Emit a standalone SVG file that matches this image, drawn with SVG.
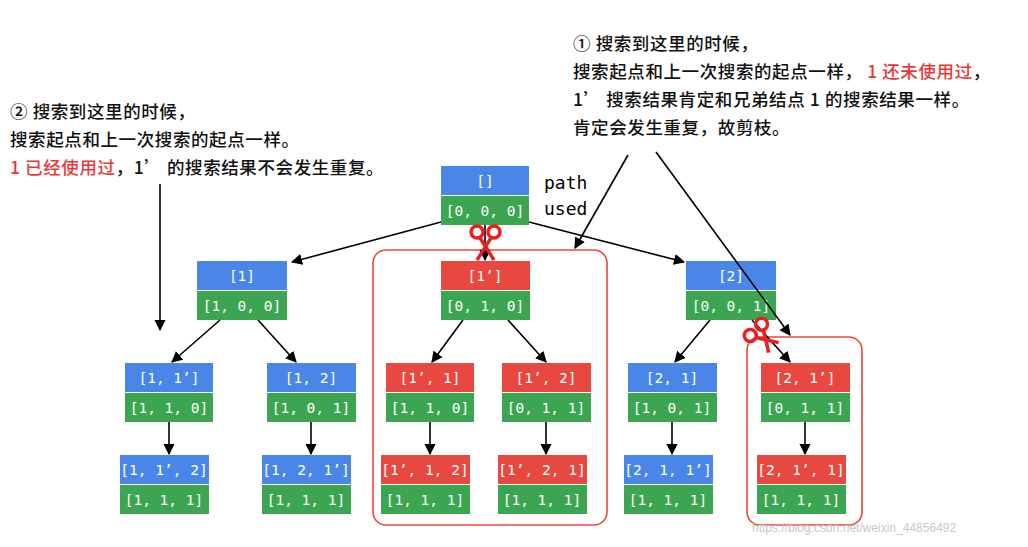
<svg xmlns="http://www.w3.org/2000/svg" width="1028" height="547" viewBox="0 0 1028 547">
<defs>
<style>
.b{fill:#4a86e8}.g{fill:#3ba552}.r{fill:#e8483f}
.t{font-family:"DejaVu Sans Mono",monospace;font-size:14.5px;fill:#fff;text-anchor:middle}
.n{font-family:"Noto Sans CJK SC","Noto Sans",sans-serif;font-size:17.5px;font-weight:500;fill:#111;letter-spacing:0.6px}
.red{fill:#e8383a}
.c line{stroke:#000;stroke-width:1.6;marker-end:url(#a)}
.box{fill:none;stroke:#e8483f;stroke-width:1.6}
.sc{stroke:#e82020;stroke-width:3.5;fill:none}
</style>
<marker id="a" viewBox="0 0 10 10" refX="9" refY="5" markerWidth="7" markerHeight="7" orient="auto"><path d="M0,0L10,5L0,10z" fill="#000"/></marker>
</defs>
<rect width="1028" height="547" fill="#fff"/>
<text class="n" x="573" y="50">① 搜索到这里的时候，</text>
<text class="n" x="573" y="78">搜索起点和上一次搜索的起点一样，<tspan class="red"> 1 还未使用过</tspan>，</text>
<text class="n" x="573" y="106">1’ 搜索结果肯定和兄弟结点 1 的搜索结果一样。</text>
<text class="n" x="573" y="134">肯定会发生重复，故剪枝。</text>
<text class="n" x="10" y="118">② 搜索到这里的时候，</text>
<text class="n" x="10" y="146">搜索起点和上一次搜索的起点一样。</text>
<text class="n" x="10" y="174"><tspan class="red">1 已经使用过</tspan>，1’ 的搜索结果不会发生重复。</text>
<text x="544" y="189" style="font-family:'DejaVu Sans Mono',monospace;font-size:18px">path</text>
<text x="544" y="215" style="font-family:'DejaVu Sans Mono',monospace;font-size:18px">used</text>
<rect class="box" x="373" y="250" width="234" height="275" rx="13"/>
<rect class="box" x="747" y="337" width="115" height="188" rx="13"/>
<g id="n1"><rect class="b" x="197" y="261" width="90" height="29"/><rect class="g" x="197" y="291" width="90" height="29"/><text class="t" x="242" y="281">[1]</text><text class="t" x="242" y="311">[1, 0, 0]</text></g>
<g id="root"><rect class="b" x="441" y="166" width="88" height="29"/><rect class="g" x="441" y="196" width="88" height="29"/><text class="t" x="485" y="186">[]</text><text class="t" x="485" y="216">[0, 0, 0]</text></g>
<g id="n1p"><rect class="r" x="441" y="261" width="89" height="29"/><rect class="g" x="441" y="291" width="89" height="29"/><text class="t" x="485" y="281">[1’]</text><text class="t" x="485" y="311">[0, 1, 0]</text></g>
<g id="n2"><rect class="b" x="686" y="261" width="90" height="29"/><rect class="g" x="686" y="291" width="90" height="29"/><text class="t" x="731" y="281">[2]</text><text class="t" x="731" y="311">[0, 0, 1]</text></g>
<g id="n11p"><rect class="b" x="125" y="363" width="88" height="29"/><rect class="g" x="125" y="393" width="88" height="29"/><text class="t" x="169" y="383">[1, 1’]</text><text class="t" x="169" y="413">[1, 1, 0]</text></g>
<g id="n12"><rect class="b" x="267" y="363" width="89" height="29"/><rect class="g" x="267" y="393" width="89" height="29"/><text class="t" x="311" y="383">[1, 2]</text><text class="t" x="311" y="413">[1, 0, 1]</text></g>
<g id="n1p1"><rect class="r" x="386" y="363" width="88" height="29"/><rect class="g" x="386" y="393" width="88" height="29"/><text class="t" x="430" y="383">[1’, 1]</text><text class="t" x="430" y="413">[1, 1, 0]</text></g>
<g id="n1p2"><rect class="r" x="502" y="363" width="89" height="29"/><rect class="g" x="502" y="393" width="89" height="29"/><text class="t" x="546" y="383">[1’, 2]</text><text class="t" x="546" y="413">[0, 1, 1]</text></g>
<g id="n21"><rect class="b" x="628" y="363" width="89" height="29"/><rect class="g" x="628" y="393" width="89" height="29"/><text class="t" x="672" y="383">[2, 1]</text><text class="t" x="672" y="413">[1, 0, 1]</text></g>
<g id="n21p"><rect class="r" x="761" y="363" width="89" height="29"/><rect class="g" x="761" y="393" width="89" height="29"/><text class="t" x="805" y="383">[2, 1’]</text><text class="t" x="805" y="413">[0, 1, 1]</text></g>
<g id="n11p2"><rect class="b" x="120" y="455" width="89" height="29"/><rect class="g" x="120" y="485" width="89" height="29"/><text class="t" x="164" y="475">[1, 1’, 2]</text><text class="t" x="164" y="505">[1, 1, 1]</text></g>
<g id="n121p"><rect class="b" x="262" y="455" width="89" height="29"/><rect class="g" x="262" y="485" width="89" height="29"/><text class="t" x="306" y="475">[1, 2, 1’]</text><text class="t" x="306" y="505">[1, 1, 1]</text></g>
<g id="n1p12"><rect class="r" x="381" y="455" width="89" height="29"/><rect class="g" x="381" y="485" width="89" height="29"/><text class="t" x="425" y="475">[1’, 1, 2]</text><text class="t" x="425" y="505">[1, 1, 1]</text></g>
<g id="n1p21"><rect class="r" x="498" y="455" width="89" height="29"/><rect class="g" x="498" y="485" width="89" height="29"/><text class="t" x="542" y="475">[1’, 2, 1]</text><text class="t" x="542" y="505">[1, 1, 1]</text></g>
<g id="n211p"><rect class="b" x="624" y="455" width="89" height="29"/><rect class="g" x="624" y="485" width="89" height="29"/><text class="t" x="668" y="475">[2, 1, 1’]</text><text class="t" x="668" y="505">[1, 1, 1]</text></g>
<g id="n21p1"><rect class="r" x="757" y="455" width="89" height="29"/><rect class="g" x="757" y="485" width="89" height="29"/><text class="t" x="801" y="475">[2, 1’, 1]</text><text class="t" x="801" y="505">[1, 1, 1]</text></g>
<g class="c">
<line x1="485" y1="225" x2="485" y2="260"/>
<line x1="441" y1="222" x2="292" y2="262"/>
<line x1="529" y1="222" x2="684" y2="262"/>
<line x1="220" y1="320" x2="172" y2="362"/>
<line x1="258" y1="320" x2="296" y2="362"/>
<line x1="463" y1="320" x2="432" y2="362"/>
<line x1="508" y1="320" x2="546" y2="362"/>
<line x1="710" y1="320" x2="675" y2="362"/>
<line x1="752" y1="320" x2="790" y2="362"/>
<line x1="169" y1="422" x2="169" y2="454"/>
<line x1="311" y1="422" x2="311" y2="454"/>
<line x1="430" y1="422" x2="430" y2="454"/>
<line x1="546" y1="422" x2="546" y2="454"/>
<line x1="672" y1="422" x2="672" y2="454"/>
<line x1="805" y1="422" x2="805" y2="454"/>
<line x1="160" y1="184" x2="160" y2="330"/>
<line x1="628" y1="155" x2="575" y2="248"/>
<line x1="656" y1="152" x2="790" y2="335"/>
</g>
<g class="sc"><circle cx="477" cy="232" r="6"/><circle cx="494" cy="232" r="6"/><line x1="480" y1="238" x2="494" y2="260"/><line x1="491" y1="238" x2="477" y2="260"/></g>
<g class="sc" transform="rotate(-45 763 337)"><circle cx="755" cy="327" r="6"/><circle cx="771" cy="327" r="6"/><line x1="758" y1="333" x2="770" y2="352"/><line x1="768" y1="333" x2="756" y2="352"/></g>
<text x="752" y="532" style="font-family:'Liberation Sans',sans-serif;font-size:12px;fill:#c8c8c8">https://blog.csdn.net/weixin_44856492</text>
</svg>
